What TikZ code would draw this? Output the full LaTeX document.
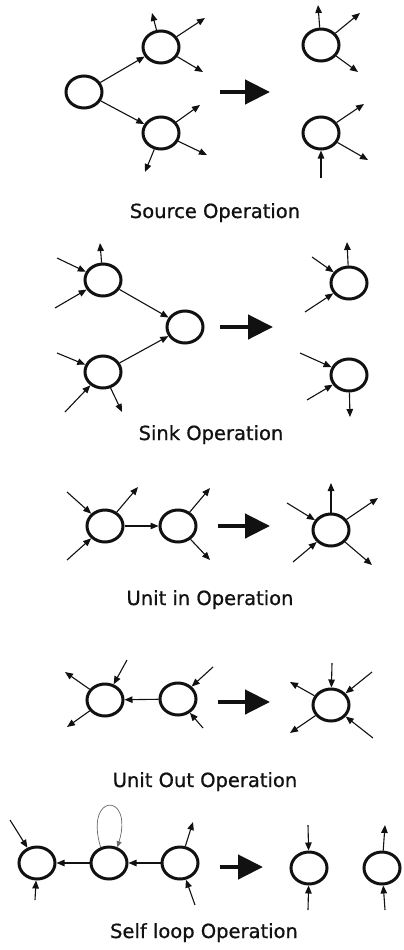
\documentclass[tikz,border=0pt]{standalone}
\usepackage{fontspec}
\newfontfamily\labelfont[FakeBold=0.8]{DejaVu Sans}
\usetikzlibrary{shapes.geometric,arrows.meta}
\definecolor{inkcolor}{HTML}{111111}
\definecolor{loopcolor}{HTML}{666666}
\newcommand{\labelsize}{\fontsize{19.5}{24}\selectfont}
\tikzset{
  opnode/.style={ellipse, draw=inkcolor, line width=3pt, minimum width=36pt, minimum height=32pt, inner sep=0pt},
  stub/.style={draw=inkcolor, line width=1.1pt, -{Triangle[length=8pt,width=6.5pt]}},
  bigarrow/.style={draw=inkcolor, line width=4.5pt, -{Triangle[length=25pt,width=24pt]}},
  thinloop/.style={draw=loopcolor, line width=0.7pt, -{Triangle[length=6pt,width=5pt]}},
  oplabel/.style={anchor=base, font=\labelfont\labelsize, text=inkcolor}
}
\begin{document}
\begin{tikzpicture}[x=1pt, y=-1pt]
  \useasboundingbox (0,0) rectangle (404,950);

  % === SOURCE OPERATION ===
  \node[opnode] (srcL) at (84,92) {};
  \node[opnode] (srcT) at (161,47) {};
  \node[opnode] (srcB) at (161,133) {};
  \draw[stub] (srcL) -- (srcT);
  \draw[stub] (srcL) -- (srcB);
  \node[opnode] (srcT2) at (321,45) {};
  \node[opnode] (srcB2) at (321,133) {};
  \foreach \nd/\x/\y [count=\i] in {srcT/152/13, srcT/205/18, srcT/203/72,
      srcB/200/105, srcB/207/155, srcB/145/172,
      srcT2/318/5, srcT2/360/13, srcT2/358/72,
      srcB2/364/104, srcB2/368/160} {
    \coordinate (\nd-o\i) at (\x,\y);
    \draw[stub] (\nd) -- (\nd-o\i);
  }
  \coordinate (srcB2-i1) at (321,178);
  \draw[stub] (srcB2-i1) -- (srcB2);
  \coordinate (srcGo) at (220,92);
  \coordinate (srcTo) at (270,92);
  \draw[bigarrow] (srcGo) -- (srcTo);
  \node[oplabel] (srcLabel) at (215,218) {Source Operation};

  % === SINK OPERATION ===
  \node[opnode] (snkT) at (103,280) {};
  \node[opnode] (snkB) at (103,372) {};
  \node[opnode] (snkD) at (185,327) {};
  \draw[stub] (snkT) -- (snkD);
  \draw[stub] (snkB) -- (snkD);
  \node[opnode] (snkT2) at (349,283) {};
  \node[opnode] (snkB2) at (349,375) {};
  \foreach \nd/\x/\y [count=\i] in {snkT/100/243, snkB/122/412,
      snkT2/347/242, snkB2/350/417} {
    \coordinate (\nd-o\i) at (\x,\y);
    \draw[stub] (\nd) -- (\nd-o\i);
  }
  \foreach \nd/\x/\y [count=\i] in {snkT/57/258, snkT/55/308,
      snkB/57/353, snkB/65/412,
      snkT2/312/257, snkT2/305/312,
      snkB2/300/353, snkB2/307/400} {
    \coordinate (\nd-i\i) at (\x,\y);
    \draw[stub] (\nd-i\i) -- (\nd);
  }
  \coordinate (snkGo) at (220,327);
  \coordinate (snkTo) at (273,327);
  \draw[bigarrow] (snkGo) -- (snkTo);
  \node[oplabel] (snkLabel) at (211,440) {Sink Operation};

  % === UNIT IN OPERATION ===
  \node[opnode] (uinL) at (105,526) {};
  \node[opnode] (uinR) at (178,526) {};
  \draw[stub] (uinL) -- (uinR);
  \node[opnode] (uinM) at (331,530) {};
  \foreach \nd/\x/\y [count=\i] in {uinL/138/487, uinR/210/488, uinR/210/560,
      uinM/331/483, uinM/378/498, uinM/372/565} {
    \coordinate (\nd-o\i) at (\x,\y);
    \draw[stub] (\nd) -- (\nd-o\i);
  }
  \foreach \nd/\x/\y [count=\i] in {uinL/67/492, uinL/67/560,
      uinM/287/503, uinM/293/562} {
    \coordinate (\nd-i\i) at (\x,\y);
    \draw[stub] (\nd-i\i) -- (\nd);
  }
  \coordinate (uinGo) at (218,526);
  \coordinate (uinTo) at (270,526);
  \draw[bigarrow] (uinGo) -- (uinTo);
  \node[oplabel] (uinLabel) at (210,605) {Unit in Operation};

  % === UNIT OUT OPERATION ===
  \node[opnode] (uoutL) at (105,700) {};
  \node[opnode] (uoutR) at (178,699) {};
  \draw[stub] (uoutR) -- (uoutL);
  \node[opnode] (uoutM) at (331,705) {};
  \foreach \nd/\x/\y [count=\i] in {uoutL/65/672, uoutL/67/727,
      uoutM/290/682, uoutM/290/733} {
    \coordinate (\nd-o\i) at (\x,\y);
    \draw[stub] (\nd) -- (\nd-o\i);
  }
  \foreach \nd/\x/\y [count=\i] in {uoutL/127/660, uoutR/213/667, uoutR/203/728,
      uoutM/332/663, uoutM/372/672, uoutM/373/738} {
    \coordinate (\nd-i\i) at (\x,\y);
    \draw[stub] (\nd-i\i) -- (\nd);
  }
  \coordinate (uoutGo) at (218,702);
  \coordinate (uoutTo) at (270,702);
  \draw[bigarrow] (uoutGo) -- (uoutTo);
  \node[oplabel] (uoutLabel) at (205,787) {Unit Out Operation};

  % === SELF LOOP OPERATION ===
  \node[opnode] (slfL) at (37,863) {};
  \node[opnode] (slfM) at (109,863) {};
  \node[opnode] (slfR) at (180,863) {};
  \draw[stub] (slfR) -- (slfM);
  \draw[stub] (slfM) -- (slfL);
  \draw[thinloop] (slfM.118) .. controls (84,792) and (134,792) .. (slfM.62);
  \node[opnode] (slfP) at (309,868) {};
  \node[opnode] (slfQ) at (382,868) {};
  \foreach \nd/\x/\y [count=\i] in {slfR/193/822, slfQ/385/825} {
    \coordinate (\nd-o\i) at (\x,\y);
    \draw[stub] (\nd) -- (\nd-o\i);
  }
  \foreach \nd/\x/\y [count=\i] in {slfL/10/820, slfL/35/900, slfR/195/905,
      slfP/308/825, slfP/308/910, slfQ/385/910} {
    \coordinate (\nd-i\i) at (\x,\y);
    \draw[stub] (\nd-i\i) -- (\nd);
  }
  \coordinate (slfGo) at (220,867);
  \coordinate (slfTo) at (263,867);
  \draw[bigarrow] (slfGo) -- (slfTo);
  \node[oplabel] (slfLabel) at (204,938) {Self loop Operation};
\end{tikzpicture}
\end{document}
